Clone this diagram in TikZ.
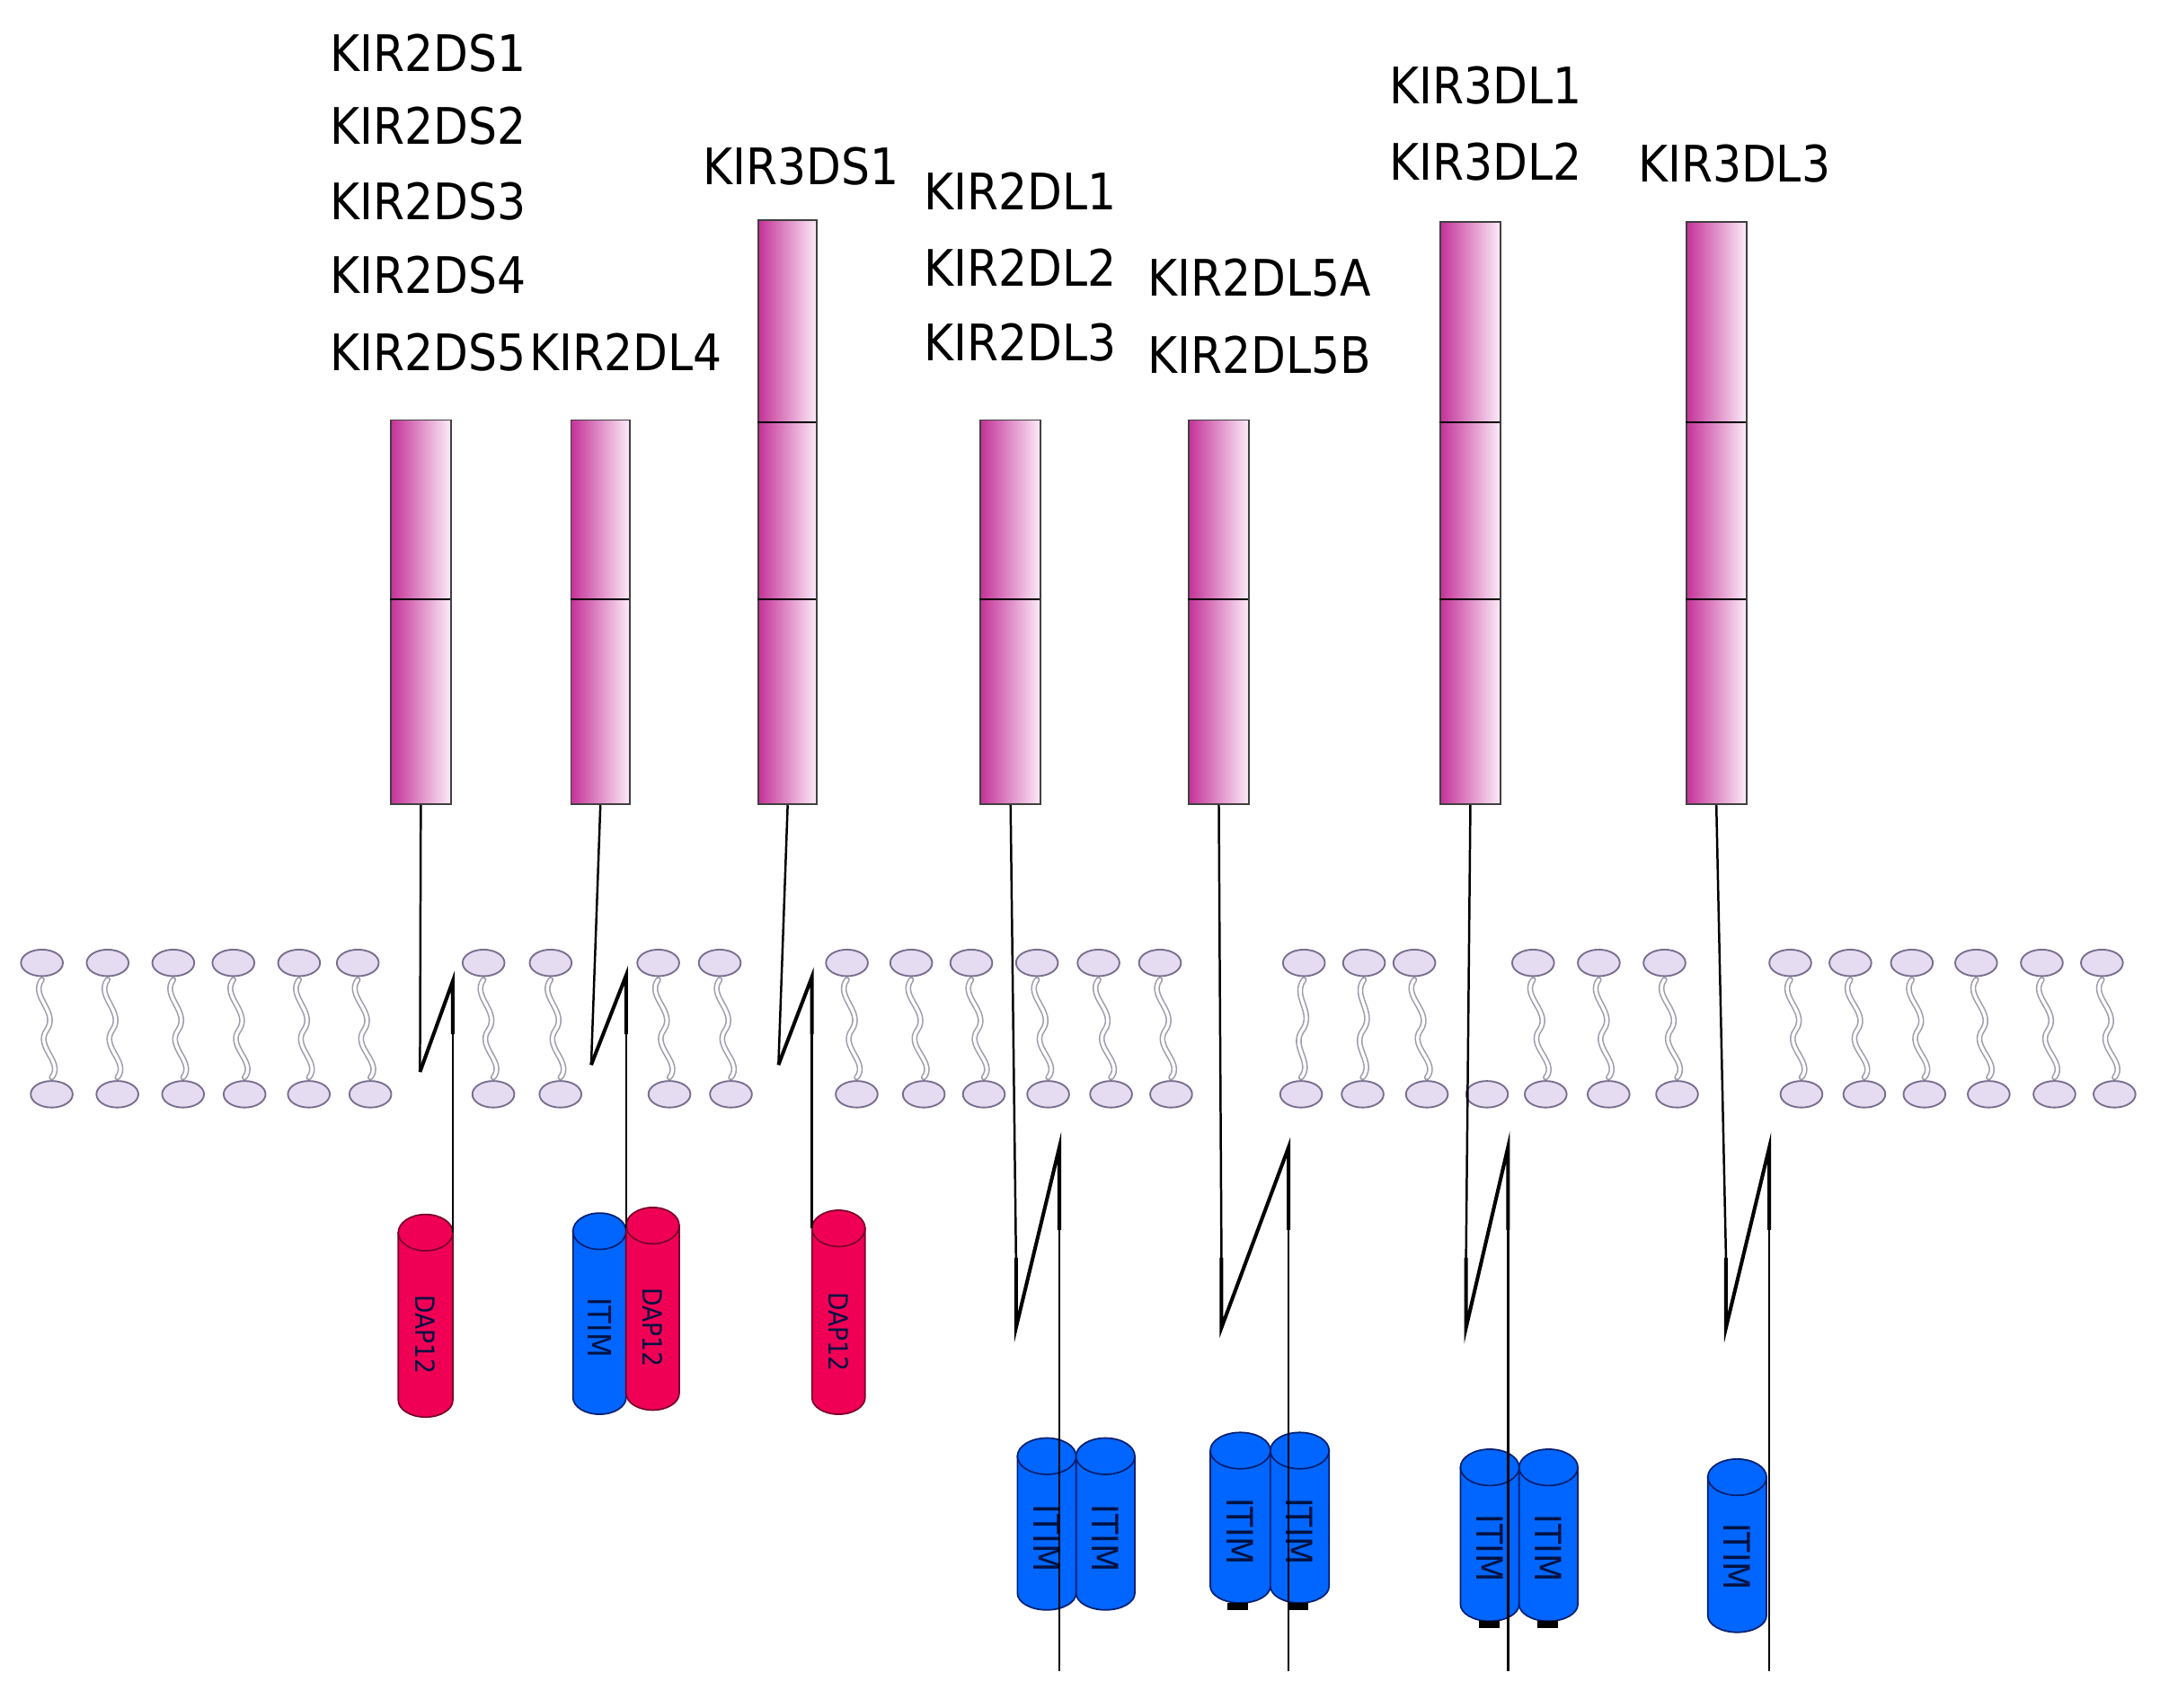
\documentclass[tikz,border=0pt]{standalone}
\usepackage{fontspec}
\setmainfont{DejaVu Sans Condensed}
\definecolor{magL}{RGB}{196,50,152}
\definecolor{magR}{RGB}{252,236,248}
\definecolor{headF}{RGB}{230,220,242}
\definecolor{headD}{RGB}{120,110,140}
\definecolor{redC}{RGB}{240,0,85}
\definecolor{redD}{RGB}{120,0,40}
\definecolor{bluC}{RGB}{0,102,255}
\definecolor{bluD}{RGB}{0,30,110}
\tikzset{
  lab/.style={anchor=base west,font=\fontsize{36}{40}\selectfont,inner sep=0pt},
  dombox/.style={draw=black!75,line width=1.2pt,left color=magL,right color=magR,shading angle=90},
  stalk/.style={line width=1.6pt,black},
  zig/.style={line width=2.6pt,black,line join=miter},
  head/.style={draw=headD,fill=headF,line width=1.2pt},
  cyltxt/.style={rotate=-90,inner sep=0pt,text=bluD!60!black},
}
\newcommand\kircyl[6]{% x1,x2,ytop,ybot,fill,draw
  \pgfmathsetmacro\rx{(#2-#1)/2}\pgfmathsetmacro\cx{(#1+#2)/2}
  \filldraw[fill=#5,draw=#6,line width=1.1pt] (#1,#3) -- (#1,#4-12) arc[start angle=180,end angle=0,x radius=\rx,y radius=12] -- (#2,#3) -- cycle;
  \filldraw[fill=#5,draw=#6,line width=1.1pt] (\cx,#3) ellipse[x radius=\rx,y radius=13];
}
\begin{document}
\begin{tikzpicture}[x=1pt,y=-1pt]
\useasboundingbox (0,0) rectangle (1552,1222);
% membrane
\foreach \t/\b in {30/37,77/84,124/131,167/175,214/221,256/265,346/353,394/401,471/479,515/523,606/613,652/661,695/704,742/750,786/795,830/838,933/931,976/975,1012/1021,1097/1106,1144/1151,1191/1200,1281/1289,1324/1334,1368/1377,1414/1423,1461/1470,1504/1513}{
  \pgfmathsetmacro\m{(\t+\b)/2}
  \draw[headD!70,line width=4.2pt,line cap=round] (\t,701) .. controls (\t-9,713) and (\m+9,724) .. (\m,737) .. controls (\m-9,749) and (\b+9,760) .. (\b,771);
  \draw[white,line width=2.2pt,line cap=round] (\t,701) .. controls (\t-9,713) and (\m+9,724) .. (\m,737) .. controls (\m-9,749) and (\b+9,760) .. (\b,771);
  \draw[head] (\t,689) ellipse[x radius=15,y radius=9.5];
  \draw[head] (\b,783) ellipse[x radius=15,y radius=9.5];
}
\draw[head] (1064,783) ellipse[x radius=15,y radius=9.5];
% domain boxes
\foreach \n/\a/\b/\top in {d1/279/322/300,d2/408/450/300,d3/542/584/157,d4/701/744/300,d5/850/893/300,d6/1030/1073/158,d7/1206/1249/158}{
  \node[dombox,minimum width=(\b-\a)*1pt,minimum height=(575-\top)*1pt,inner sep=0pt,anchor=north west] (\n) at (\a,\top) {};
  \draw[line width=1.4pt] (\a,429) -- (\b,429);
}
\foreach \a/\b in {542/584,1030/1073,1206/1249}{\draw[line width=1.4pt] (\a,302) -- (\b,302);}
% labels
\node[lab] (l1) at (236,51) {KIR2DS1};
\node[lab] (l2) at (236,103) {KIR2DS2};
\node[lab] (l3) at (236,157) {KIR2DS3};
\node[lab] (l4) at (236,210) {KIR2DS4};
\node[lab] (l5) at (236,265) {KIR2DS5};
\node[lab] (l6) at (379,265) {KIR2DL4};
\node[lab] (l7) at (503,132) {KIR3DS1};
\node[lab] (l8) at (661,150) {KIR2DL1};
\node[lab] (l9) at (661,205) {KIR2DL2};
\node[lab] (l10) at (661,258) {KIR2DL3};
\node[lab] (l11) at (821,212) {KIR2DL5A};
\node[lab] (l12) at (821,267) {KIR2DL5B};
\node[lab] (l13) at (994,74) {KIR3DL1};
\node[lab] (l14) at (994,129) {KIR3DL2};
\node[lab] (l15) at (1172,130) {KIR3DL3};
% activating cytoplasmic partners
\kircyl{285}{324}{882}{1014}{redC}{redD}
\node[cyltxt,font=\fontsize{19}{20}\selectfont] (dap1) at (304.5,955) {DAP12};
\kircyl{410}{448}{881}{1012}{bluC}{bluD}
\node[cyltxt,font=\fontsize{23}{24}\selectfont] (itm0) at (429,950) {ITIM};
\kircyl{448}{486}{877}{1009}{redC}{redD}
\node[cyltxt,font=\fontsize{19}{20}\selectfont] (dap2) at (467,950) {DAP12};
\kircyl{581}{619}{879}{1012}{redC}{redD}
\node[cyltxt,font=\fontsize{19}{20}\selectfont] (dap3) at (600,953) {DAP12};
% inhibitory ITIMs
\kircyl{728}{770}{1042}{1152}{bluC}{bluD}
\kircyl{770}{812}{1042}{1152}{bluC}{bluD}
\node[cyltxt,font=\fontsize{26}{28}\selectfont] (i1) at (749,1101) {ITIM};
\node[cyltxt,font=\fontsize{26}{28}\selectfont] (i2) at (791,1101) {ITIM};
\kircyl{866}{909}{1038}{1147}{bluC}{bluD}
\kircyl{909}{951}{1038}{1147}{bluC}{bluD}
\node[cyltxt,font=\fontsize{26}{28}\selectfont] (i3) at (887.5,1096) {ITIM};
\node[cyltxt,font=\fontsize{26}{28}\selectfont] (i4) at (930,1096) {ITIM};
\fill (878,1147) rectangle (893,1152); \fill (921,1147) rectangle (936,1152);
\kircyl{1045}{1087}{1050}{1160}{bluC}{bluD}
\kircyl{1087}{1129}{1050}{1160}{bluC}{bluD}
\node[cyltxt,font=\fontsize{26}{28}\selectfont] (i5) at (1066,1108) {ITIM};
\node[cyltxt,font=\fontsize{26}{28}\selectfont] (i6) at (1108,1108) {ITIM};
\fill (1058,1160) rectangle (1073,1165); \fill (1100,1160) rectangle (1115,1165);
\kircyl{1222}{1264}{1057}{1168}{bluC}{bluD}
\node[cyltxt,font=\fontsize{26}{28}\selectfont] (i7) at (1243,1114) {ITIM};
% stalks with transmembrane zig-zag
\coordinate (e1) at (324,882); \coordinate (e2) at (448,879); \coordinate (e3) at (581,879);
\draw[stalk] (d1.south) -- (300.5,767);
\draw[zig] (300.5,767) -- (324,702) -- (324,740);
\draw[stalk] (324,740) -- (e1);
\draw[stalk] (d2.south) -- (423,762);
\draw[zig] (423,762) -- (448,698) -- (448,740);
\draw[stalk] (448,740) -- (e2);
\draw[stalk] (d3.south) -- (557,762);
\draw[zig] (557,762) -- (581,699) -- (581,740);
\draw[stalk] (581,740) -- (e3);
\foreach \n/\x/\y in {d4/727/758,d5/874/922,d6/1049/1079,d7/1235/1266}{
  \coordinate (z\n) at (\x,950);
  \coordinate (f\n) at (\y,1196);
  \draw[stalk] (\n.south) -- (\x,900);
  \draw[zig] (\x,900) -- (z\n) -- (\y,821) -- (\y,880);
  \draw[stalk] (\y,880) -- (f\n);
}
\end{tikzpicture}
\end{document}
